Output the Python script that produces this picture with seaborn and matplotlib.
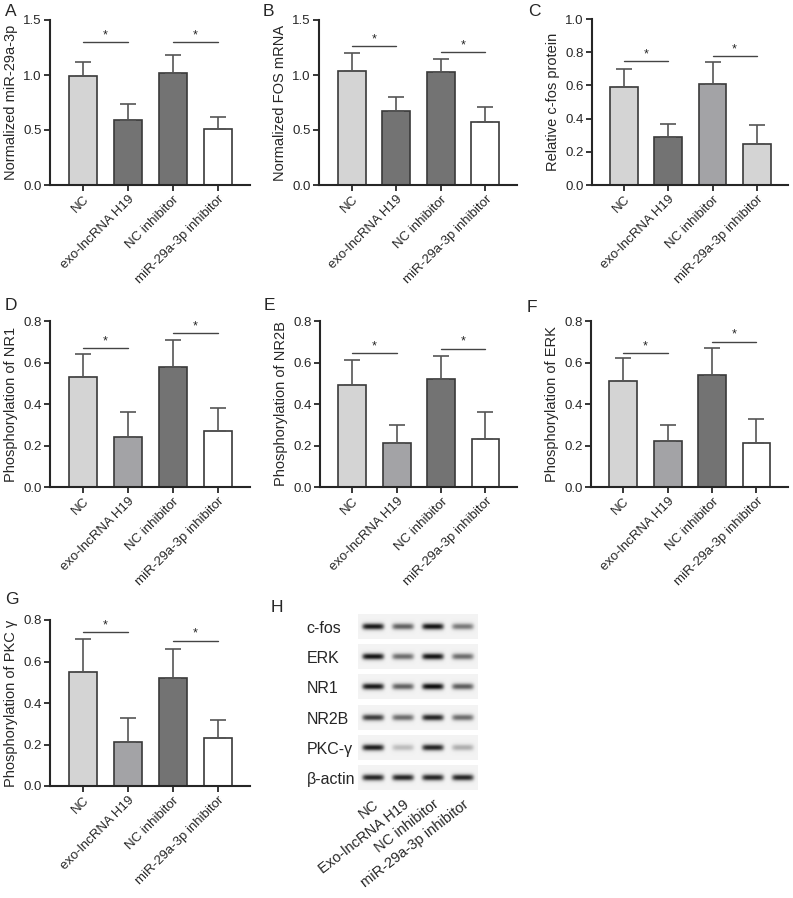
import matplotlib
matplotlib.use("Agg")
import matplotlib.pyplot as plt
import seaborn as sns
import numpy as np

sns.set_style("ticks")
plt.rcParams["font.family"] = ["Liberation Sans", "DejaVu Sans"]

groups = ["NC", "exo-lncRNA H19", "NC inhibitor", "miR-29a-3p inhibitor"]

# panel values (mean, upper error end)
mir29a_mean = [0.99, 0.59, 1.02, 0.51]
mir29a_top = [1.12, 0.74, 1.18, 0.62]
fos_mrna_mean = [1.04, 0.67, 1.03, 0.57]
fos_mrna_top = [1.20, 0.80, 1.15, 0.71]
cfos_prot_mean = [0.59, 0.29, 0.61, 0.25]
cfos_prot_top = [0.70, 0.37, 0.74, 0.36]
nr1_mean = [0.53, 0.24, 0.58, 0.27]
nr1_top = [0.64, 0.36, 0.71, 0.38]
nr2b_mean = [0.49, 0.21, 0.52, 0.23]
nr2b_top = [0.61, 0.30, 0.63, 0.36]
erk_mean = [0.51, 0.22, 0.54, 0.21]
erk_top = [0.62, 0.30, 0.67, 0.33]
pkc_mean = [0.55, 0.21, 0.52, 0.23]
pkc_top = [0.71, 0.33, 0.66, 0.32]

# significance bar heights (left pair, right pair)
sig_A = [1.30, 1.30]
sig_B = [1.26, 1.21]
sig_C = [0.745, 0.775]
sig_D = [0.67, 0.74]
sig_E = [0.646, 0.667]
sig_F = [0.646, 0.70]
sig_G = [0.74, 0.70]

# western blot
blot_proteins = ["c-fos", "ERK", "NR1", "NR2B", "PKC-γ", "β-actin"]
blot_lanes = ["NC", "Exo-lncRNA H19", "NC inhibitor", "miR-29a-3p inhibitor"]
blot_intensity = [
    [0.90, 0.60, 0.92, 0.50],
    [0.92, 0.55, 0.92, 0.55],
    [0.90, 0.60, 0.95, 0.62],
    [0.75, 0.55, 0.85, 0.55],
    [0.88, 0.22, 0.85, 0.28],
    [0.85, 0.85, 0.85, 0.85],
]

LIGHT = "#d4d4d4"
MID = "#a2a2a7"
DARK = "#737373"
WHITE = "#ffffff"

W, H = 793, 898
fig = plt.figure(figsize=(W / 100, H / 100), dpi=100)


def add_ax(l, t, r, b):
    return fig.add_axes([l / W, 1 - b / H, (r - l) / W, (b - t) / H])


panels = [
    ("A", (50, 20, 250, 185), mir29a_mean, mir29a_top, sig_A, [LIGHT, DARK, DARK, WHITE],
     "Normalized miR-29a-3p", 1.5, [0, 0.5, 1.0, 1.5], (5, 12)),
    ("B", (319, 20, 517, 185), fos_mrna_mean, fos_mrna_top, sig_B, [LIGHT, DARK, DARK, WHITE],
     "Normalized FOS mRNA", 1.5, [0, 0.5, 1.0, 1.5], (263, 12)),
    ("C", (592, 19, 788, 185), cfos_prot_mean, cfos_prot_top, sig_C, [LIGHT, DARK, MID, LIGHT],
     "Relative c-fos protein", 1.0, [0, 0.2, 0.4, 0.6, 0.8, 1.0], (528, 12)),
    ("D", (50, 321, 250, 487), nr1_mean, nr1_top, sig_D, [LIGHT, MID, DARK, WHITE],
     "Phosphorylation of NR1", 0.8, [0, 0.2, 0.4, 0.6, 0.8], (5, 306)),
    ("E", (320, 321, 517, 487), nr2b_mean, nr2b_top, sig_E, [LIGHT, MID, DARK, WHITE],
     "Phosphorylation of NR2B", 0.8, [0, 0.2, 0.4, 0.6, 0.8], (264, 306)),
    ("F", (591, 321, 788, 487), erk_mean, erk_top, sig_F, [LIGHT, MID, DARK, WHITE],
     "Phosphorylation of ERK", 0.8, [0, 0.2, 0.4, 0.6, 0.8], (527, 308)),
    ("G", (50, 620, 250, 786), pkc_mean, pkc_top, sig_G, [LIGHT, MID, DARK, WHITE],
     "Phosphorylation of PKC γ", 0.8, [0, 0.2, 0.4, 0.6, 0.8], (5, 600)),
]

for letter, box, mean, top, sig, colors, ylabel, ymax, yticks, lab in panels:
    ax = add_ax(*box)
    sns.barplot(x=groups, y=mean, hue=groups, palette=colors, legend=False,
                width=0.63, edgecolor="#3a3a3a", linewidth=1.2, errorbar=None, ax=ax)
    err = np.array(top) - np.array(mean)
    ax.errorbar(range(4), mean, yerr=[np.zeros(4), err], fmt="none",
                ecolor="#555555", elinewidth=1.2, capsize=5.5, capthick=1.2, zorder=1)
    for i, y in zip([0, 2], sig):
        ax.plot([i, i + 1], [y, y], color="#444444", lw=1.0)
        ax.text(i + 0.5, y + ymax * 0.005, "*", ha="center", va="bottom", fontsize=9)
    ax.set_xlim(-0.73, 3.71)
    ax.set_ylim(0, ymax)
    ax.set_yticks(yticks)
    ax.set_yticklabels([f"{v:.1f}" for v in yticks], fontsize=9.5)
    ax.set_ylabel(ylabel, fontsize=10.5, labelpad=4)
    ax.set_xlabel("")
    ax.set_xticks(range(4))
    ax.set_xticklabels(groups, rotation=45, ha="right", rotation_mode="anchor", fontsize=9.5)
    ax.tick_params(axis="both", width=1.3, length=4, pad=2)
    for s in ["left", "bottom"]:
        ax.spines[s].set_linewidth(1.5)
    sns.despine(ax=ax)
    fig.text(lab[0] / W, 1 - lab[1] / H, letter, fontsize=12.5, va="center", ha="left")

# western blot panel
bx = add_ax(358, 612, 478, 793)
xs = np.linspace(-0.5, 3.5, 240)
ys = np.linspace(0, 1, 30)
for r, row in enumerate(blot_intensity):
    img = np.full((len(ys), len(xs)), 0.95)
    for lane, val in enumerate(row):
        band = np.exp(-((xs - lane) / 0.36) ** 6)[None, :] * np.exp(-((ys - 0.5) / 0.13) ** 2)[:, None]
        img -= 0.95 * val * band
    bx.imshow(img, cmap="gray", vmin=0, vmax=1, aspect="auto",
              extent=[-0.5, 3.5, r + 0.9, r + 0.1], interpolation="bilinear")
bx.set_xlim(-0.5, 3.5)
bx.set_ylim(6, 0)
bx.set_yticks(np.arange(6) + 0.5)
bx.set_yticklabels(blot_proteins, fontsize=11.5, ha="left")
bx.tick_params(axis="y", length=0, pad=37)
bx.set_xticks(range(4))
bx.set_xticklabels(blot_lanes, rotation=38, ha="right", rotation_mode="anchor", fontsize=10.5)
bx.tick_params(axis="x", length=0, pad=3)
for s in bx.spines.values():
    s.set_visible(False)
fig.text(271 / W, 1 - 608 / H, "H", fontsize=12.5, va="center", ha="left")

fig.savefig("out.png", dpi=100)
